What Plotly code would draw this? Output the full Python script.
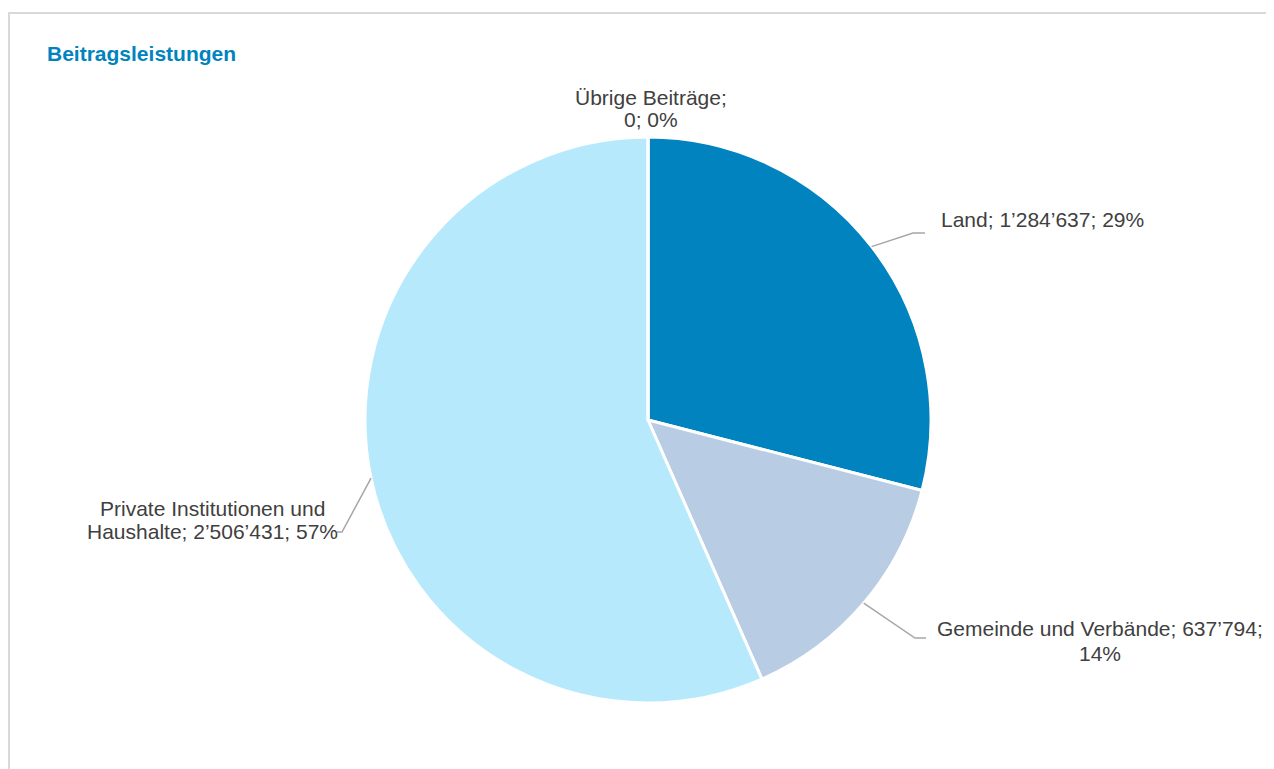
import math
import plotly.graph_objects as go

# ---- data ----
categories = ["Land", "Gemeinde und Verbände", "Private Institutionen und Haushalte", "Übrige Beiträge"]
values = [1284637, 637794, 2506431, 0]
colors = ["#0083BE", "#B8CCE4", "#B7E9FD", "#7F7F7F"]
title_text = "Beitragsleistungen"

# ---- layout constants (screen pixels; page body has an 8px offset) ----
OFF = 8
W, H = 1274 - OFF, 769 - OFF
CX, CY, R = 648, 420, 283
FONT = "Arial, Liberation Sans, sans-serif"
FS = 21
TXT = "#404040"


def px(x):
    return (x - OFF) / W


def py(y):
    return 1 - (y - OFF) / H


def fmt(v):
    return f"{v:,}".replace(",", "\u2019")


total = sum(values)
pcts = [round(100 * v / total) for v in values]
labels_full = [f"{c}; {fmt(v)}; {p}%" for c, v, p in zip(categories, values, pcts)]

# line breaks for each label (split after the given substring), and placement
label_layout = {
    "Land": dict(split=None, x=939, y=[220], xanchor="left"),
    "Gemeinde und Verbände": dict(split="637\u2019794;", x=1100, y=[628, 653], xanchor="center"),
    "Private Institutionen und Haushalte": dict(split="Institutionen und", x=212, y=[508, 531], xanchor="center"),
    "Übrige Beiträge": dict(split="Beiträge;", x=651, y=[97, 119], xanchor="center"),
}
leader_layout = {
    "Land": [(913, 233), (925, 233)],
    "Gemeinde und Verbände": [(915, 638), (926, 638)],
    "Private Institutionen und Haushalte": [(342, 532), (337, 532)],
}

fig = go.Figure()
fig.add_trace(go.Pie(
    labels=categories,
    values=values,
    sort=False,
    direction="clockwise",
    rotation=0,
    textinfo="none",
    hoverinfo="label+value+percent",
    marker=dict(colors=colors, line=dict(color="white", width=3)),
    domain=dict(x=[px(CX - R), px(CX + R)], y=[py(CY + R), py(CY - R)]),
    showlegend=False,
))

annotations = []
shapes = []

# frame
shapes.append(dict(type="rect", xref="paper", yref="paper",
                   x0=px(9), x1=px(1274 + 20), y0=py(769 + 20), y1=py(13),
                   line=dict(color="#D9D9D9", width=2), fillcolor="rgba(0,0,0,0)", layer="below"))

# title
annotations.append(dict(text=f"<b>{title_text}</b>", xref="paper", yref="paper",
                        x=px(45), y=py(54), xanchor="left", yanchor="middle", showarrow=False,
                        font=dict(family=FONT, size=FS, color="#0083BE")))

cum = 0
for cat, v, full in zip(categories, values, labels_full):
    mid = (cum + v / 2) / total * 2 * math.pi
    cum += v
    sx = CX + R * math.sin(mid)
    sy = CY - R * math.cos(mid)
    lay = label_layout[cat]
    if lay["split"]:
        i = full.index(lay["split"]) + len(lay["split"])
        lines = [full[:i].strip(), full[i:].strip()]
    else:
        lines = [full]
    for line, yy in zip(lines, lay["y"]):
        annotations.append(dict(text=line, xref="paper", yref="paper",
                                x=px(lay["x"]), y=py(yy), xanchor=lay["xanchor"], yanchor="middle",
                                showarrow=False, font=dict(family=FONT, size=FS, color=TXT)))
    if cat in leader_layout:
        pts = [(sx, sy)] + leader_layout[cat]
        path = "M " + " L ".join(f"{px(a)},{py(b)}" for a, b in pts)
        shapes.append(dict(type="path", xref="paper", yref="paper", path=path,
                           line=dict(color="#A6A6A6", width=1.5)))

fig.update_layout(
    width=W, height=H,
    margin=dict(l=0, r=0, t=0, b=0),
    paper_bgcolor="white",
    plot_bgcolor="white",
    annotations=annotations,
    shapes=shapes,
)

fig.write_html("out.html")
